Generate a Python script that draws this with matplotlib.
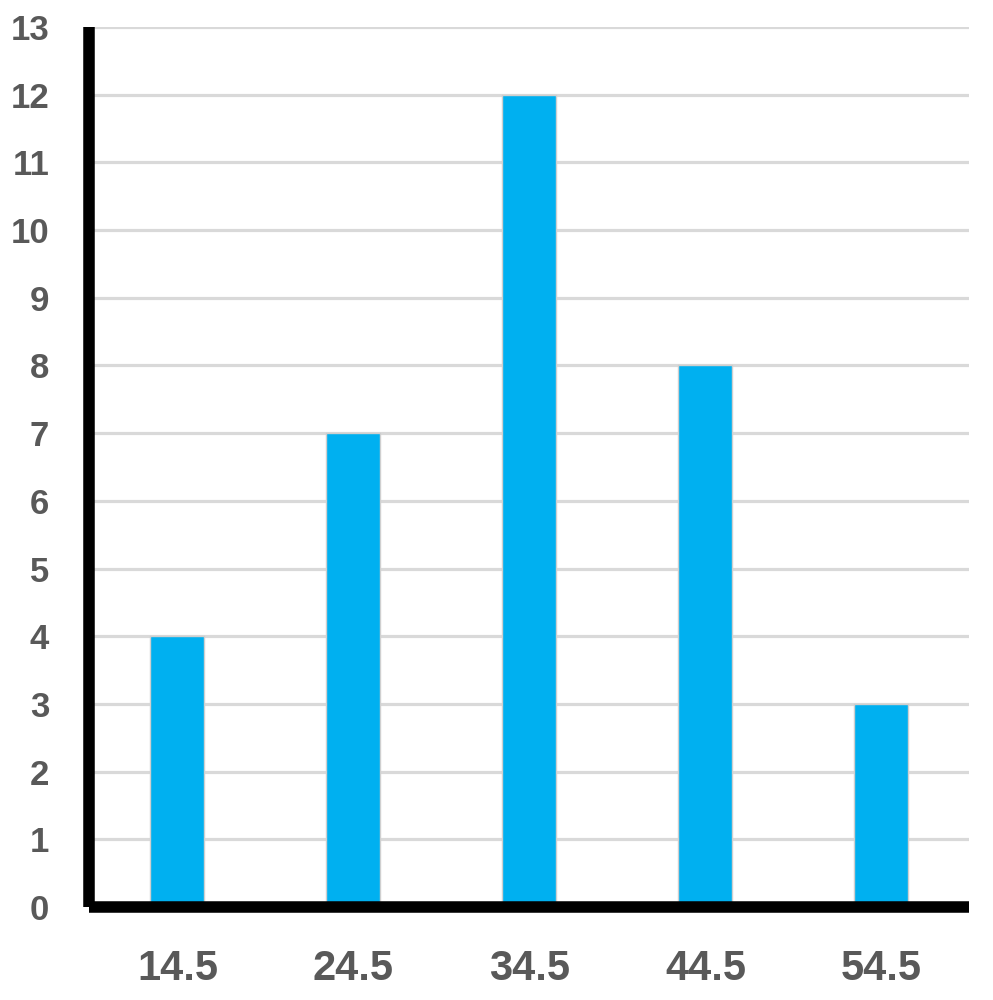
import matplotlib
matplotlib.use("Agg")
import matplotlib.pyplot as plt

categories = ["14.5", "24.5", "34.5", "44.5", "54.5"]
values = [4, 7, 12, 8, 3]
yticks = list(range(0, 14))

fig = plt.figure(figsize=(9.93, 10), dpi=100)
ax = fig.add_axes([0.0901, 0.093, 0.8862, 0.880])

x = range(len(categories))
ax.bar(x, values, width=0.307, color="#00B0F0", edgecolor="#CFCFCF", linewidth=1.0, zorder=3)

ax.set_xlim(-0.5, len(categories) - 0.5)
ax.set_ylim(0, 13)
ax.set_yticks(yticks)
ax.set_yticklabels([str(v) for v in yticks])
ax.set_xticks(list(x))
ax.set_xticklabels(categories)

ax.grid(axis="y", color="#D9D9D9", linewidth=2.3, zorder=0)
ax.set_axisbelow(True)

for s in ["top", "right"]:
    ax.spines[s].set_visible(False)
for s in ["left", "bottom"]:
    ax.spines[s].set_linewidth(8.3)
    ax.spines[s].set_color("black")
    ax.spines[s].set_zorder(4)
    ax.spines[s].set_capstyle("butt")

ax.tick_params(axis="y", length=0, pad=29, labelsize=25, labelcolor="#595959")
ax.tick_params(axis="x", length=0, pad=30, labelsize=30, labelcolor="#595959")
for lab in ax.get_xticklabels() + ax.get_yticklabels():
    lab.set_fontfamily("Liberation Sans")
    lab.set_fontweight("bold")

fig.savefig("out.png", dpi=100)
